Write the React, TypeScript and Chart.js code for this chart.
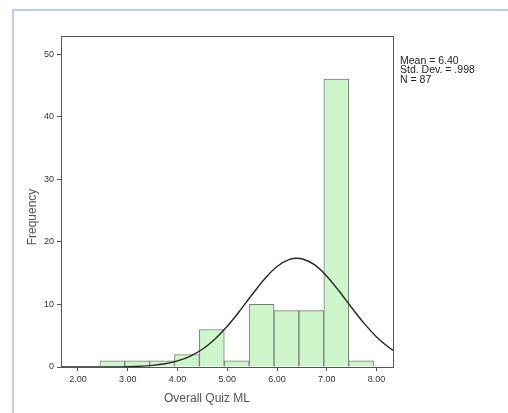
import React, { useEffect, useRef } from "react";
import { Chart, registerables } from "chart.js";

Chart.register(...registerables);

// Histogram bins (centre of each 0.5-wide bin, as drawn) and their frequencies
const binCenters = [2.69, 3.19, 3.69, 4.19, 4.69, 5.19, 5.69, 6.19, 6.69, 7.19, 7.69];
const frequencies = [1, 1, 1, 2, 6, 1, 10, 9, 9, 46, 1];

// Fitted normal curve
const curveX = [1.66, 2.0, 2.5, 3.0, 3.5, 3.75, 4.0, 4.25, 4.5, 4.75, 5.0, 5.25, 5.5, 5.75, 6.0, 6.25, 6.4, 6.5, 6.75, 7.0, 7.25, 7.5, 7.75, 8.0, 8.25, 8.33];
const curveY = [0, 0, 0.01, 0.05, 0.26, 0.51, 0.97, 1.71, 2.84, 4.44, 6.5, 8.95, 11.58, 14.07, 16.05, 17.19, 17.39, 17.3, 16.35, 14.52, 12.1, 9.47, 6.97, 4.81, 3.12, 2.68];

const xTicks = [2, 3, 4, 5, 6, 7, 8];
const yTicks = [0, 10, 20, 30, 40, 50];
const statsLines = ["Mean = 6.40", "Std. Dev. = .998", "N = 87"];
const xTitle = "Overall Quiz ML";
const yTitle = "Frequency";

const FONT = "'Liberation Sans', Arial, sans-serif";

export default function App() {
  const ref = useRef<HTMLCanvasElement | null>(null);

  useEffect(() => {
    if (!ref.current) return;

    const decor = {
      id: "decor",
      afterDatasetsDraw(chart: any) {
        const { ctx, chartArea } = chart;
        ctx.save();
        ctx.strokeStyle = "#555";
        ctx.lineWidth = 1;
        ctx.strokeRect(
          Math.round(chartArea.left) + 0.5,
          Math.round(chartArea.top) + 0.5,
          Math.round(chartArea.right - chartArea.left),
          Math.round(chartArea.bottom - chartArea.top)
        );
        ctx.restore();
      },
      afterDraw(chart: any) {
        const { ctx, chartArea } = chart;
        ctx.save();
        ctx.fillStyle = "#555";
        ctx.font = `12px ${FONT}`;
        ctx.textAlign = "center";
        ctx.textBaseline = "middle";
        ctx.fillText(xTitle, 207, 399);
        ctx.translate(33, 217);
        ctx.rotate(-Math.PI / 2);
        ctx.fillText(yTitle, 0, 0);
        ctx.restore();

        ctx.save();
        ctx.fillStyle = "#222";
        ctx.font = `10.5px ${FONT}`;
        ctx.textAlign = "left";
        ctx.textBaseline = "middle";
        statsLines.forEach((s, i) => {
          ctx.fillText(s, chartArea.right + 7, 61 + i * 9.5);
        });
        ctx.restore();
      },
    };

    const chart = new Chart(ref.current, {
      type: "bar",
      data: {
        datasets: [
          {
            type: "line",
            data: curveX.map((x, i) => ({ x, y: curveY[i] })),
            borderColor: "#262626",
            borderWidth: 1.4,
            pointRadius: 0,
            fill: false,
            cubicInterpolationMode: "monotone",
            order: 0,
          } as any,
          {
            type: "bar",
            data: binCenters.map((x, i) => ({ x, y: frequencies[i] })),
            backgroundColor: "#cdf7cb",
            borderColor: "#7d7d7d",
            borderWidth: 1,
            barPercentage: 1,
            categoryPercentage: 1,
            order: 1,
          } as any,
        ],
      },
      options: {
        responsive: false,
        animation: false,
        layout: { padding: { top: 36, right: 115, left: 0, bottom: 0 } },
        plugins: { legend: { display: false }, tooltip: { enabled: false } },
        scales: {
          x: {
            type: "linear",
            min: 1.66,
            max: 8.33,
            offset: false,
            grid: { display: true, drawOnChartArea: false, drawTicks: true, tickLength: 4, color: "#555", offset: false },
            border: { display: false },
            ticks: {
              padding: 3,
              color: "#333",
              font: { family: FONT, size: 9 },
              maxRotation: 0,
              callback: (v: any) => Number(v).toFixed(2),
            },
            afterBuildTicks: (scale: any) => {
              scale.ticks = xTicks.map((v) => ({ value: v }));
            },
            afterFit: (scale: any) => {
              scale.height = 46;
            },
          },
          y: {
            type: "linear",
            min: 0,
            max: 52.9,
            grid: { display: true, drawOnChartArea: false, drawTicks: true, tickLength: 4, color: "#555" },
            border: { display: false },
            ticks: {
              padding: 3,
              color: "#333",
              font: { family: FONT, size: 9 },
              callback: (v: any) => String(v),
            },
            afterBuildTicks: (scale: any) => {
              scale.ticks = yTicks.map((v) => ({ value: v }));
            },
            afterFit: (scale: any) => {
              scale.width = 61;
            },
          },
        },
      } as any,
      plugins: [decor],
    });

    return () => chart.destroy();
  }, []);

  return (
    <div style={{ position: "fixed", left: 0, top: 0, width: 508, height: 413, background: "#fff" }}>
      <div
        style={{
          position: "absolute",
          left: 12,
          top: 9,
          right: 0,
          bottom: 0,
          borderTop: "2px solid #b8d2ee",
          borderLeft: "2px solid #b8d2ee",
        }}
      />
      <canvas ref={ref} width={508} height={413} style={{ position: "absolute", left: 0, top: 0 }} />
    </div>
  );
}
